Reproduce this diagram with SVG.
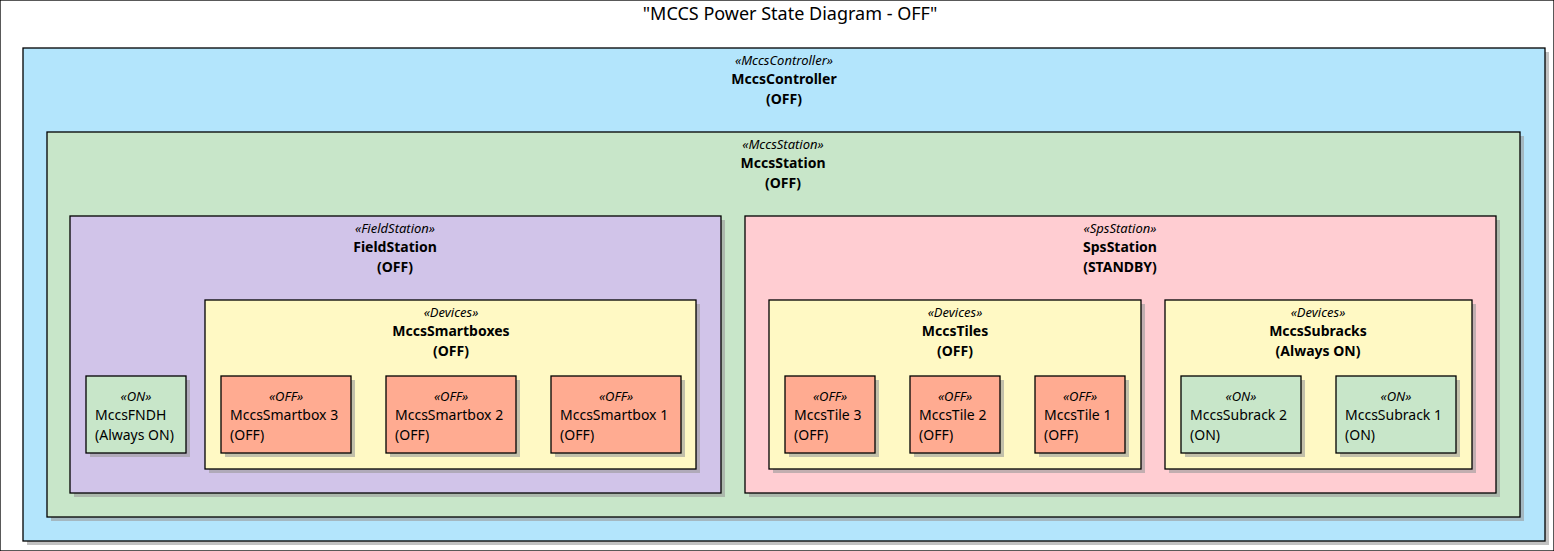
<svg xmlns="http://www.w3.org/2000/svg" width="1554" height="551" viewBox="0 0 1554 551">
<style>
text{font-family:"Noto Sans","Open Sans",sans-serif;font-size:14px;fill:#000}
.st{font-style:italic;font-size:13px;text-anchor:middle}
.nm{font-weight:bold;text-anchor:middle}
.lf{text-anchor:start}
rect{stroke:#000;stroke-width:1.3}
.sh{fill:#999;stroke:none;opacity:0.6}
.ctl{fill:#B3E5FC}.sta{fill:#C8E6C9}.fs{fill:#D1C4E9}.sps{fill:#FFCDD2}.dev{fill:#FFF9C4}.off{fill:#FFAB91}.on{fill:#C8E6C9}
</style>
<rect width="1554" height="551" fill="#fff" stroke="none"/>
<text x="790" y="20" style="font-size:18px;text-anchor:middle">"MCCS Power State Diagram - OFF"</text>
<g id="MccsController"><rect class="sh" x="27" y="52" width="1522" height="493"/><rect class="ctl" x="23" y="48" width="1522" height="493"/>
<text class="st" x="784" y="65">«MccsController»</text><text class="nm" x="784" y="84">MccsController</text><text class="nm" x="784" y="104">(OFF)</text></g>
<g id="MccsStation"><rect class="sh" x="51" y="136" width="1473" height="385"/><rect class="sta" x="47" y="132" width="1473" height="385"/>
<text class="st" x="783" y="149">«MccsStation»</text><text class="nm" x="783" y="168">MccsStation</text><text class="nm" x="783" y="188">(OFF)</text></g>
<g id="FieldStation"><rect class="sh" x="74" y="220" width="651" height="277"/><rect class="fs" x="70" y="216" width="651" height="277"/>
<text class="st" x="395" y="233">«FieldStation»</text><text class="nm" x="395" y="252">FieldStation</text><text class="nm" x="395" y="272">(OFF)</text></g>
<g id="SpsStation"><rect class="sh" x="749" y="220" width="751" height="277"/><rect class="sps" x="745" y="216" width="751" height="277"/>
<text class="st" x="1120" y="233">«SpsStation»</text><text class="nm" x="1120" y="252">SpsStation</text><text class="nm" x="1120" y="272">(STANDBY)</text></g>
<g id="MccsSmartboxes"><rect class="sh" x="209" y="304" width="491" height="169"/><rect class="dev" x="205" y="300" width="491" height="169"/>
<text class="st" x="451" y="317">«Devices»</text><text class="nm" x="451" y="336">MccsSmartboxes</text><text class="nm" x="451" y="356">(OFF)</text></g>
<g id="MccsTiles"><rect class="sh" x="773" y="304" width="372" height="169"/><rect class="dev" x="769" y="300" width="372" height="169"/>
<text class="st" x="955" y="317">«Devices»</text><text class="nm" x="955" y="336">MccsTiles</text><text class="nm" x="955" y="356">(OFF)</text></g>
<g id="MccsSubracks"><rect class="sh" x="1169" y="304" width="307" height="169"/><rect class="dev" x="1165" y="300" width="307" height="169"/>
<text class="st" x="1318" y="317">«Devices»</text><text class="nm" x="1318" y="336">MccsSubracks</text><text class="nm" x="1318" y="356">(Always ON)</text></g>
<g id="MccsFNDH"><rect class="sh" x="90" y="380" width="100" height="77"/><rect class="on" x="86" y="376" width="100" height="77"/>
<text class="st" x="136" y="401">«ON»</text><text class="lf" x="95" y="420">MccsFNDH</text><text class="lf" x="95" y="440">(Always ON)</text></g>
<g id="MccsSmartbox3"><rect class="sh" x="225" y="380" width="130" height="77"/><rect class="off" x="221" y="376" width="130" height="77"/>
<text class="st" x="286" y="401">«OFF»</text><text class="lf" x="230" y="420">MccsSmartbox 3</text><text class="lf" x="230" y="440">(OFF)</text></g>
<g id="MccsSmartbox2"><rect class="sh" x="390" y="380" width="130" height="77"/><rect class="off" x="386" y="376" width="130" height="77"/>
<text class="st" x="451" y="401">«OFF»</text><text class="lf" x="395" y="420">MccsSmartbox 2</text><text class="lf" x="395" y="440">(OFF)</text></g>
<g id="MccsSmartbox1"><rect class="sh" x="555" y="380" width="130" height="77"/><rect class="off" x="551" y="376" width="130" height="77"/>
<text class="st" x="616" y="401">«OFF»</text><text class="lf" x="560" y="420">MccsSmartbox 1</text><text class="lf" x="560" y="440">(OFF)</text></g>
<g id="MccsTile3"><rect class="sh" x="789" y="380" width="90" height="77"/><rect class="off" x="785" y="376" width="90" height="77"/>
<text class="st" x="830" y="401">«OFF»</text><text class="lf" x="794" y="420">MccsTile 3</text><text class="lf" x="794" y="440">(OFF)</text></g>
<g id="MccsTile2"><rect class="sh" x="914" y="380" width="90" height="77"/><rect class="off" x="910" y="376" width="90" height="77"/>
<text class="st" x="955" y="401">«OFF»</text><text class="lf" x="919" y="420">MccsTile 2</text><text class="lf" x="919" y="440">(OFF)</text></g>
<g id="MccsTile1"><rect class="sh" x="1039" y="380" width="90" height="77"/><rect class="off" x="1035" y="376" width="90" height="77"/>
<text class="st" x="1080" y="401">«OFF»</text><text class="lf" x="1044" y="420">MccsTile 1</text><text class="lf" x="1044" y="440">(OFF)</text></g>
<g id="MccsSubrack2"><rect class="sh" x="1185" y="380" width="120" height="77"/><rect class="on" x="1181" y="376" width="120" height="77"/>
<text class="st" x="1241" y="401">«ON»</text><text class="lf" x="1190" y="420">MccsSubrack 2</text><text class="lf" x="1190" y="440">(ON)</text></g>
<g id="MccsSubrack1"><rect class="sh" x="1340" y="380" width="120" height="77"/><rect class="on" x="1336" y="376" width="120" height="77"/>
<text class="st" x="1396" y="401">«ON»</text><text class="lf" x="1345" y="420">MccsSubrack 1</text><text class="lf" x="1345" y="440">(ON)</text></g>
<g id="connectors"/>
</svg>
